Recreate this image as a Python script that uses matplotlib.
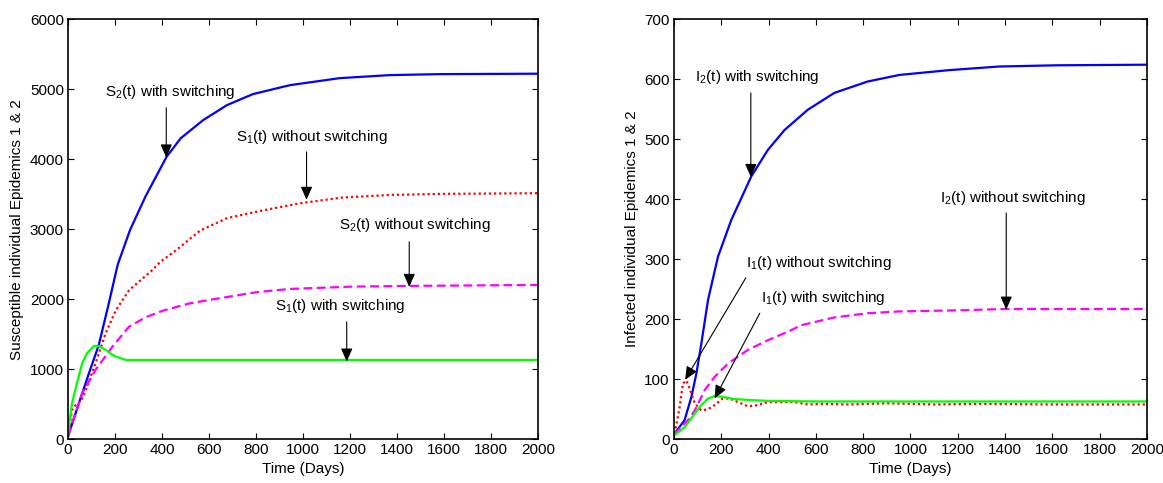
import matplotlib
matplotlib.use("Agg")
import matplotlib.pyplot as plt

plt.rcParams['font.family'] = ['Liberation Sans', 'DejaVu Sans']
plt.rcParams['mathtext.fontset'] = 'custom'
plt.rcParams['mathtext.rm'] = 'Liberation Sans'
plt.rcParams['font.size'] = 11

# susceptible populations (days, individuals)
s2_sw_t = [0, 46, 89, 131, 174, 211, 264, 330, 420, 480, 575, 676, 787, 945, 1157, 1370, 1583, 2000]
s2_sw = [40, 514, 943, 1348, 1948, 2490, 2990, 3470, 4037, 4300, 4557, 4771, 4929, 5057, 5157, 5200, 5214, 5220]

s1_no_t = [0, 17, 38, 55, 81, 117, 160, 203, 260, 360, 391, 460, 562, 676, 817, 987, 1165, 1379, 1593, 2000]
s1_no = [50, 419, 514, 540, 752, 1086, 1514, 1840, 2130, 2420, 2529, 2700, 2980, 3157, 3260, 3370, 3451, 3490, 3504, 3514]

s2_no_t = [0, 60, 117, 189, 260, 331, 403, 517, 602, 800, 945, 1208, 1450, 2000]
s2_no = [50, 657, 990, 1323, 1609, 1743, 1836, 1940, 1990, 2100, 2147, 2180, 2190, 2204]

s1_sw_t = [0, 17, 38, 60, 81, 110, 131, 160, 196, 246, 2000]
s1_sw = [100, 514, 800, 1086, 1229, 1333, 1333, 1276, 1190, 1133, 1133]

# infected populations
i2_sw_t = [0, 45, 74, 95, 116, 144, 186, 242, 327, 397, 467, 566, 678, 819, 954, 1165, 1376, 1615, 2000]
i2_sw = [8, 32, 71, 110, 160, 232, 304, 365, 438, 482, 515, 549, 577, 596, 607, 615, 621, 623, 624]

i2_no_t = [0, 60, 88, 130, 172, 228, 313, 397, 481, 538, 678, 819, 954, 1221, 1400, 2000]
i2_no = [8, 32, 48, 82, 104, 126, 149, 165, 179, 190, 203, 210, 213, 215, 217, 217]

i1_sw_t = [0, 45, 88, 116, 144, 172, 200, 256, 341, 397, 600, 2000]
i1_sw = [6, 20, 43, 57, 68, 72, 71, 67, 65, 64, 63, 63]

i1_no_t = [0, 6, 24, 38, 52, 66, 88, 116, 144, 172, 207, 235, 270, 313, 355, 397, 510, 566, 636, 735,
           900, 1100, 1300, 1600, 2000]
i1_no = [10, 15, 54, 93, 98, 85, 60, 48, 50, 57, 68, 68, 62, 55, 57, 62, 62, 58, 59, 58,
         60, 58, 59, 58, 58]

xticks = list(range(0, 2001, 200))

fig = plt.figure(figsize=(11.63, 4.83), dpi=100)
ax1 = fig.add_axes([0.0585, 0.0905, 0.4041, 0.8700])
ax2 = fig.add_axes([0.5795, 0.0905, 0.4067, 0.8700])

lw = 1.6
ax1.plot(s2_sw_t, s2_sw, color=(0, 0, 1), lw=lw)
ax1.plot(s1_no_t, s1_no, color=(1, 0, 0), lw=lw, linestyle=(0, (1, 1.3)))
ax1.plot(s2_no_t, s2_no, color=(1, 0, 1), lw=lw, linestyle=(0, (4, 2)))
ax1.plot(s1_sw_t, s1_sw, color=(0, 1, 0), lw=lw)

ax2.plot(i2_sw_t, i2_sw, color=(0, 0, 1), lw=lw)
ax2.plot(i1_no_t, i1_no, color=(1, 0, 0), lw=lw, linestyle=(0, (1, 1.3)))
ax2.plot(i2_no_t, i2_no, color=(1, 0, 1), lw=lw, linestyle=(0, (4, 2)))
ax2.plot(i1_sw_t, i1_sw, color=(0, 1, 0), lw=lw)

ax1.set_xlim(0, 2000)
ax1.set_ylim(0, 6000)
ax1.set_yticks(range(0, 6001, 1000))
ax2.set_xlim(0, 2000)
ax2.set_ylim(0, 700)
ax2.set_yticks(range(0, 701, 100))

for ax in (ax1, ax2):
    ax.set_xticks(xticks)
    ax.tick_params(direction='in', top=True, right=True, length=4, width=0.8, labelsize=11, pad=3)
    for sp in ax.spines.values():
        sp.set_linewidth(1.2)
    ax.set_xlabel('Time (Days)', fontsize=11, labelpad=3)

ax1.set_ylabel('Susceptible individual Epidemics 1 & 2', fontsize=11, labelpad=4)
ax2.set_ylabel('Infected individual Epidemics 1 & 2', fontsize=11, labelpad=4)

arrow = dict(arrowstyle='-|>,head_length=0.5,head_width=0.22', color='k', lw=0.8,
             shrinkA=0, shrinkB=0, mutation_scale=16)
sub = lambda n: r'$\mathregular{_%d}$' % n

# left panel labels
ax1.text(158, 4961, 'S' + sub(2) + '(t) with switching', va='center', ha='left')
ax1.annotate('', xy=(418, 4024), xytext=(418, 4733), arrowprops=arrow)
ax1.text(715, 4319, 'S' + sub(1) + '(t) without switching', va='center', ha='left')
ax1.annotate('', xy=(1015, 3419), xytext=(1015, 4104), arrowprops=arrow)
ax1.text(1152, 3061, 'S' + sub(2) + '(t) without switching', va='center', ha='left')
ax1.annotate('', xy=(1452, 2176), xytext=(1452, 2819), arrowprops=arrow)
ax1.text(880, 1900, 'S' + sub(1) + '(t) with switching', va='center', ha='left')
ax1.annotate('', xy=(1186, 1110), xytext=(1186, 1676), arrowprops=arrow)

# right panel labels
ax2.text(89, 604, 'I' + sub(2) + '(t) with switching', va='center', ha='left')
ax2.annotate('', xy=(325, 437), xytext=(325, 577), arrowprops=arrow)
ax2.text(304, 294, 'I' + sub(1) + '(t) without switching', va='center', ha='left')
ax2.annotate('', xy=(47, 99), xytext=(304, 269), arrowprops=arrow)
ax2.text(367, 235, 'I' + sub(1) + '(t) with switching', va='center', ha='left')
ax2.annotate('', xy=(172, 68), xytext=(363, 210), arrowprops=arrow)
ax2.text(1123, 402, 'I' + sub(2) + '(t) without switching', va='center', ha='left')
ax2.annotate('', xy=(1405, 216), xytext=(1405, 377), arrowprops=arrow)

fig.savefig('out.png', dpi=100)
